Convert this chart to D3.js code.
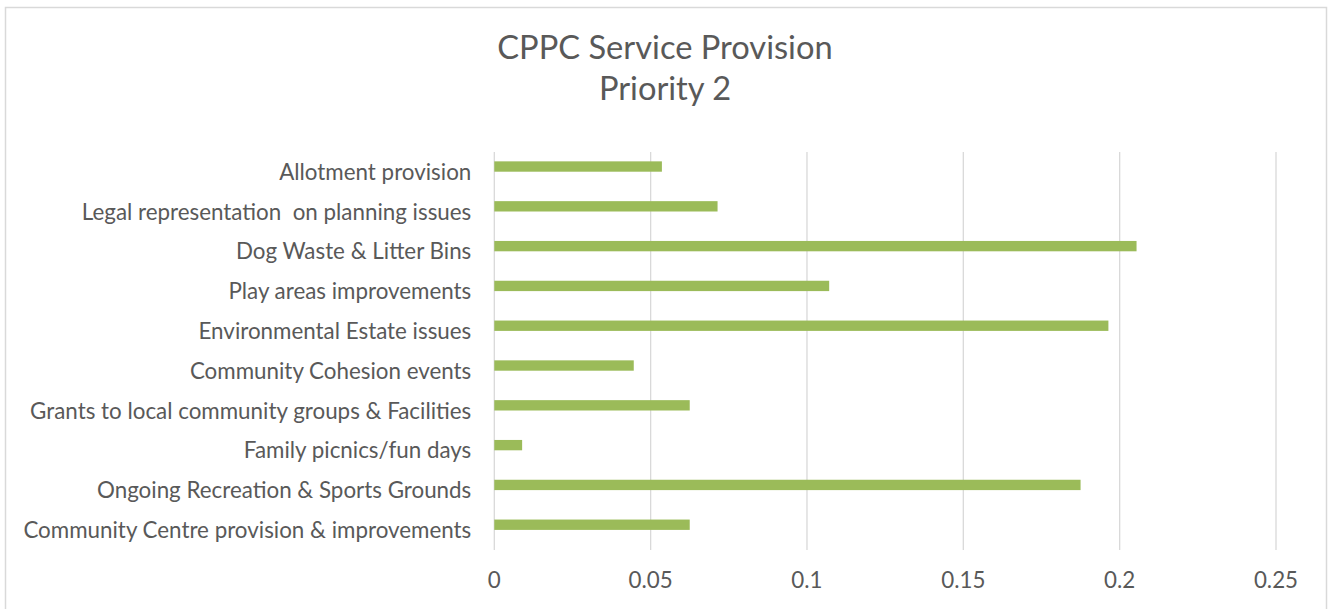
<!DOCTYPE html>
<html lang="en">
<head>
    <meta charset="UTF-8">
    <title>CPPC Service Provision Priority 2</title>
    <script src="https://d3js.org/d3.v7.min.js"></script>
    <style>
        body, html {
            margin: 0;
            padding: 0;
            background: #fff;
            font-family: Lato, "Open Sans", sans-serif;
        }
        svg { display: block; }
        text { white-space: pre; }
    </style>
</head>
<body>
    <div id="chart"></div>
    <script>
        // categories top to bottom, as shown
        const categories = [
            "Allotment provision",
            "Legal representation  on planning issues",
            "Dog Waste & Litter Bins",
            "Play areas improvements",
            "Environmental Estate issues",
            "Community Cohesion events",
            "Grants to local community groups & Facilities",
            "Family picnics/fun days",
            "Ongoing Recreation & Sports Grounds",
            "Community Centre provision & improvements"
        ];
        const values = [0.0536, 0.0714, 0.2054, 0.1071, 0.1964, 0.0446, 0.0625, 0.0089, 0.1875, 0.0625];
        const ticks = [0, 0.05, 0.1, 0.15, 0.2, 0.25];
        const titleLines = ["CPPC Service Provision", "Priority 2"];

        const W = 1333, H = 609;
        const plot = { left: 494.3, right: 1276, top: 152, bottom: 550 };
        const textColor = "#595959", gridColor = "#d9d9d9", barColor = "#9bbb59";

        const svg = d3.select("#chart").append("svg")
            .attr("width", W)
            .attr("height", H);

        // chart border
        svg.append("rect")
            .attr("x", 5.5).attr("y", 7.5)
            .attr("width", 1321).attr("height", 620)
            .attr("fill", "none")
            .attr("stroke", gridColor)
            .attr("stroke-width", 1.5);

        const x = d3.scaleLinear().domain([0, 0.25]).range([plot.left, plot.right]);
        const y = d3.scaleBand().domain(categories).range([plot.top, plot.bottom]).padding(0);

        // gridlines
        svg.append("g").selectAll("line")
            .data(ticks)
            .join("line")
            .attr("x1", d => x(d)).attr("x2", d => x(d))
            .attr("y1", plot.top).attr("y2", plot.bottom)
            .attr("stroke", gridColor)
            .attr("stroke-width", 1.3);

        // bars (sit in the upper half of each band, like Excel with an empty 2nd series)
        const bw = y.bandwidth();
        svg.append("g").selectAll("rect")
            .data(categories)
            .join("rect")
            .attr("x", x(0))
            .attr("y", d => y(d) + bw * 0.235)
            .attr("width", (d, i) => x(values[i]) - x(0))
            .attr("height", bw * 0.26)
            .attr("fill", barColor);

        // work out a label font size that matches the original text width
        const probe = svg.append("text").attr("font-size", 20).text(categories[9]);
        const fs = 20 * 448 / probe.node().getComputedTextLength();
        probe.remove();

        // category labels
        svg.append("g").selectAll("text")
            .data(categories)
            .join("text")
            .attr("x", plot.left - 23)
            .attr("y", d => y(d) + bw / 2)
            .attr("dy", "0.35em")
            .attr("text-anchor", "end")
            .attr("font-size", fs)
            .attr("fill", textColor)
            .text(d => d);

        // tick labels
        svg.append("g").selectAll("text")
            .data(ticks)
            .join("text")
            .attr("x", d => x(d))
            .attr("y", 588)
            .attr("text-anchor", "middle")
            .attr("font-size", fs)
            .attr("fill", textColor)
            .text(d => d);

        // title
        svg.append("g").selectAll("text")
            .data(titleLines)
            .join("text")
            .attr("x", 665)
            .attr("y", (d, i) => 59 + i * 40.5)
            .attr("text-anchor", "middle")
            .attr("font-size", fs * 1.46)
            .attr("fill", textColor)
            .text(d => d);
    </script>
</body>
</html>
